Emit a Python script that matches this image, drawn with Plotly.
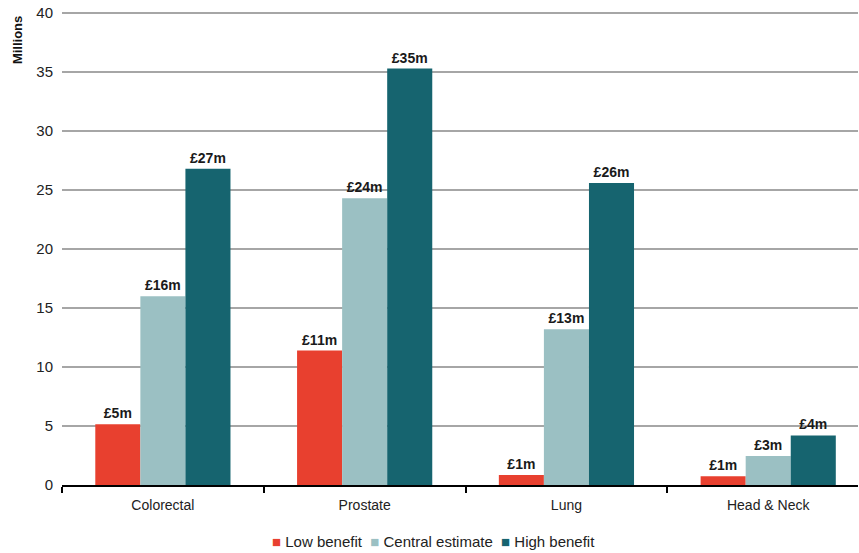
import plotly.graph_objects as go

categories = ["Colorectal", "Prostate", "Lung", "Head & Neck"]
low_benefit = [5.15, 11.4, 0.85, 0.75]
central_estimate = [16.0, 24.3, 13.2, 2.45]
high_benefit = [26.8, 35.3, 25.6, 4.2]
low_labels = ["£5m", "£11m", "£1m", "£1m"]
central_labels = ["£16m", "£24m", "£13m", "£3m"]
high_labels = ["£27m", "£35m", "£26m", "£4m"]
y_ticks = [0, 5, 10, 15, 20, 25, 30, 35, 40]

series = [
    ("Low benefit", low_benefit, low_labels, "#e8402f"),
    ("Central estimate", central_estimate, central_labels, "#9bc0c3"),
    ("High benefit", high_benefit, high_labels, "#16646f"),
]

fig = go.Figure()
for name, vals, labels, color in series:
    fig.add_trace(go.Bar(
        x=categories, y=vals, name=name, marker_color=color,
        marker_line_width=0,
        text=labels, textposition="outside", cliponaxis=False,
        textfont=dict(family="Liberation Sans, Arial", size=14, color="#1a1a1a", weight="bold"),
    ))

legend_html = "&nbsp;&nbsp;".join(
    f"<span style='color:{c}'>■</span> {n}" for n, _, _, c in series
)
fig.add_annotation(text=legend_html, xref="paper", yref="paper", x=0.467, y=-0.119,
                   xanchor="center", yanchor="middle", showarrow=False,
                   font=dict(family="Liberation Sans, Arial", size=15, color="#222222"))
fig.add_annotation(text="<b>Millions</b>", xref="paper", yref="paper", x=-0.055, y=0.996,
                   xanchor="center", yanchor="top", textangle=-90, showarrow=False,
                   font=dict(family="Liberation Sans, Arial", size=13, color="#111111"))

fig.update_layout(
    width=859, height=553,
    margin=dict(l=62, r=1, t=12, b=68),
    paper_bgcolor="white", plot_bgcolor="white",
    barmode="group", bargap=0.33, bargroupgap=0,
    font=dict(family="Liberation Sans, Arial", size=14, color="#222222"),
    showlegend=False,
    xaxis=dict(type="category", range=[-0.5, 3.445], tickson="boundaries",
               ticks="outside", ticklen=6, tickwidth=2, tickcolor="black",
               showline=True, linecolor="black", linewidth=2, showgrid=False,
               automargin=False, ticklabelstandoff=6,
               tickfont=dict(size=14, color="#222222")),
    yaxis=dict(range=[0, 40.09], tickvals=y_ticks, showgrid=True, gridcolor="#a6a6a6",
               gridwidth=2, zeroline=False, showline=False, ticks="",
               automargin=False, ticklabelstandoff=8,
               tickfont=dict(size=15, color="#222222")),
)

fig.write_html("out.html", post_script="document.body.style.margin='0';",
               config={"displayModeBar": False})
